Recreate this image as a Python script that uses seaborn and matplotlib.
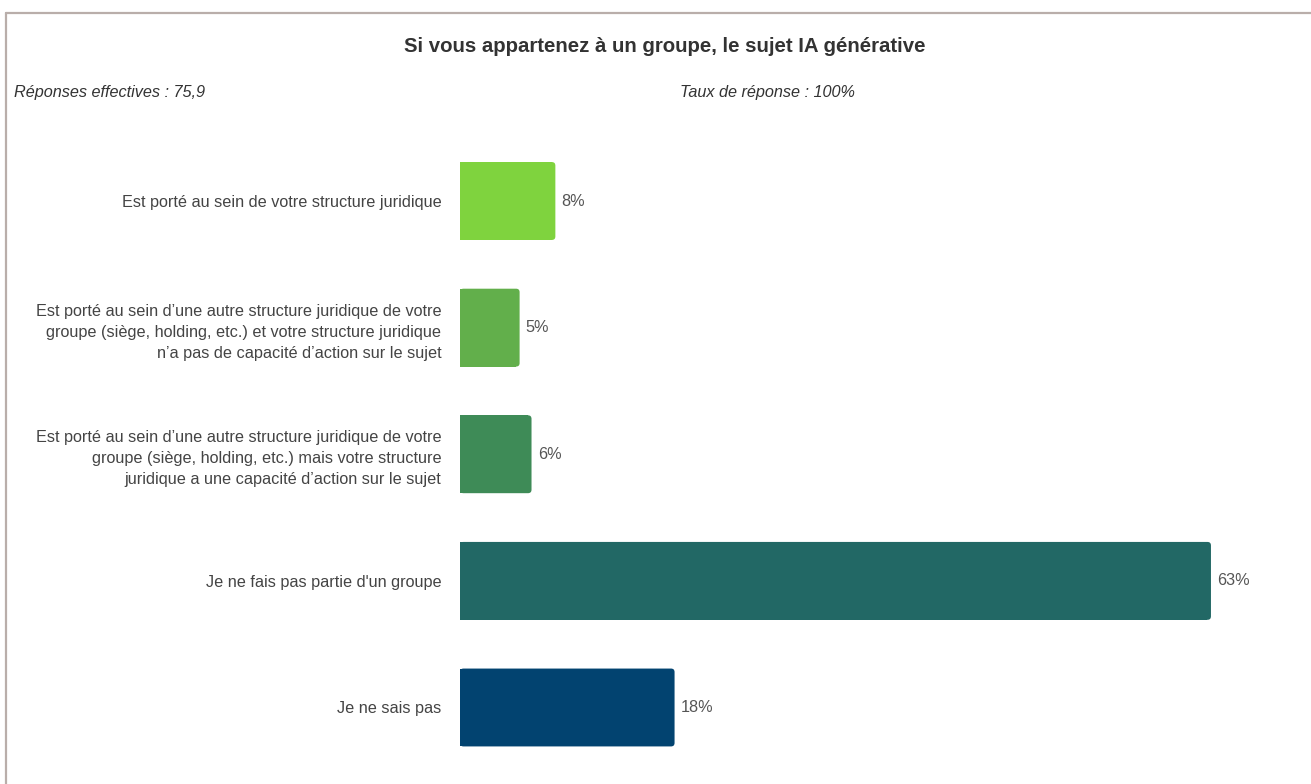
import matplotlib
matplotlib.use("Agg")
import matplotlib.pyplot as plt
import seaborn as sns
import pandas as pd
from matplotlib.lines import Line2D
from matplotlib.patches import FancyBboxPatch

# Survey answers and shares (%)
categories = [
    "Est porté au sein de votre structure juridique",
    "Est porté au sein d\u2019une autre structure juridique de votre\n"
    "groupe (siège, holding, etc.) et votre structure juridique\n"
    "n\u2019a pas de capacité d\u2019action sur le sujet",
    "Est porté au sein d\u2019une autre structure juridique de votre\n"
    "groupe (siège, holding, etc.) mais votre structure\n"
    "juridique a une capacité d\u2019action sur le sujet",
    "Je ne fais pas partie d'un groupe",
    "Je ne sais pas",
]
shares = [8, 5, 6, 63, 18]
bar_colors = ["#7fd33e", "#62af4b", "#3e8b57", "#226865", "#024370"]

title = "Si vous appartenez à un groupe, le sujet IA générative"
left_note = "Réponses effectives : 75,9"
right_note = "Taux de réponse : 100%"

df = pd.DataFrame({"categorie": categories, "part": shares})

sns.set_theme(style="white")
plt.rcParams["font.family"] = ["Liberation Sans", "DejaVu Sans"]

W, H = 1311, 784
fig = plt.figure(figsize=(W / 100, H / 100), dpi=100)
fig.patch.set_facecolor("white")

# Axes placed in pixel terms: zero line at x=460, ~11.92 px per percent
x0, px_per = 460, 11.92
xmax = 70
top_px, bot_px = 137.7, 770.8
ax = fig.add_axes([x0 / W, 1 - bot_px / H, xmax * px_per / W, (bot_px - top_px) / H])

sns.barplot(data=df, y="categorie", x="part", hue="categorie",
            palette=bar_colors, legend=False, width=0.615, orient="h",
            ax=ax, saturation=1)

ax.set_xlim(0, xmax)

# Slightly rounded right ends: a rounded copy behind each bar, with the
# square bar trimmed so only its left corners stay sharp
r_x = 3.5 / px_per                      # ~3.5 px corner radius in data units
y_per = (bot_px - top_px) / 5           # px per category step
aspect = (3.5 / y_per) / r_x
for p in list(ax.patches):
    x, y, w, h = p.get_x(), p.get_y(), p.get_width(), p.get_height()
    if w <= 0:
        continue
    rounded = FancyBboxPatch((x, y), w, h,
                             boxstyle=f"round,pad=0,rounding_size={r_x}",
                             mutation_aspect=aspect,
                             facecolor=p.get_facecolor(), edgecolor="none",
                             zorder=p.get_zorder() - 0.1)
    ax.add_patch(rounded)
    p.set_width(w - r_x)
    p.set_edgecolor("none")

ax.set_xlabel("")
ax.set_ylabel("")
ax.set_xticks([])
for s in ax.spines.values():
    s.set_visible(False)
ax.tick_params(axis="y", length=0, pad=13.5, labelsize=11.7, labelcolor="#444444")
for lbl in ax.get_yticklabels():
    lbl.set_horizontalalignment("right")
    lbl.set_linespacing(1.5)

for i, v in enumerate(shares):
    ax.annotate(f"{v}%", xy=(v, i), xytext=(4.5, 0), textcoords="offset points",
                va="center", ha="left", fontsize=11.7, color="#555555")

fig.text(665 / W, 1 - 46 / H, title, ha="center", va="center",
         fontsize=14.7, fontweight="bold", color="#333333")
fig.text(14 / W, 1 - 93 / H, left_note, ha="left", va="center",
         fontsize=11.7, style="italic", color="#333333")
fig.text(680 / W, 1 - 93 / H, right_note, ha="left", va="center",
         fontsize=11.7, style="italic", color="#333333")

# Frame lines along the top and left edges
border = "#b9aeaa"
fig.add_artist(Line2D([6.5 / W, 1], [1 - 12.5 / H, 1 - 12.5 / H],
                      transform=fig.transFigure, color=border, lw=1.6))
fig.add_artist(Line2D([6.5 / W, 6.5 / W], [0, 1 - 12.5 / H],
                      transform=fig.transFigure, color=border, lw=1.6))

fig.savefig("out.png", dpi=100, facecolor="white")
